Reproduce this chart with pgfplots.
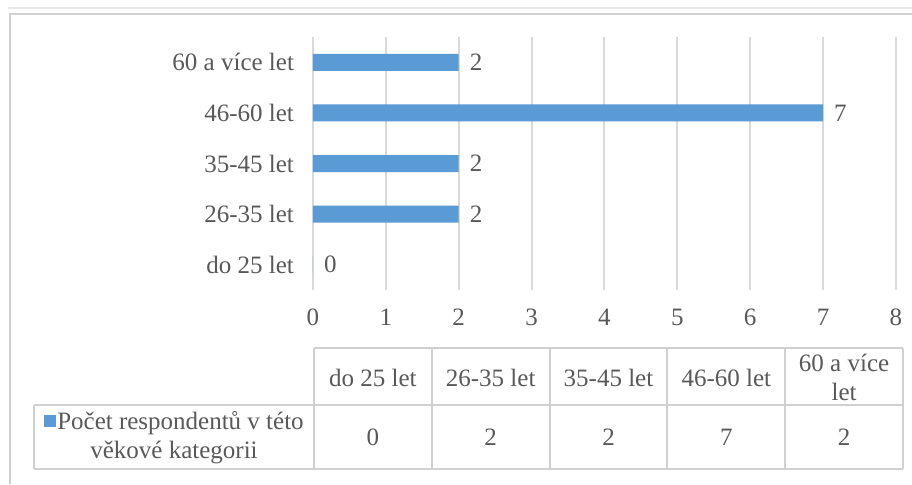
\documentclass[border=0pt]{standalone}
\usepackage{pgfplots}
\pgfplotsset{compat=1.18}
\usepackage{fontspec}
\setmainfont{Liberation Serif}

\definecolor{barblue}{HTML}{5B9BD5}
\definecolor{gridgray}{HTML}{D9D9D9}
\definecolor{framegray}{HTML}{D0D0D0}
\definecolor{textgray}{HTML}{595959}

\newcommand{\chartfont}{\fontsize{12.5}{14.5}\selectfont}

\begin{document}
\begin{tikzpicture}
\useasboundingbox (0,0) rectangle (456pt,242pt);
\fill[white] (0,0) rectangle (456pt,242pt);

% chart frame (the part in view)
\begin{scope}[x=0.5pt,y=-0.5pt,yshift=242pt]
  \draw[gridgray!60,line width=0.8pt] (8,8) -- (912,8);
  \draw[framegray,line width=1pt] (10,484) -- (10,14) -- (912,14);
\end{scope}

\begin{axis}[
  at={(156.5pt,97pt)}, anchor=south west,
  scale only axis, width=291.5pt, height=126.5pt,
  xbar, bar width=8.5pt,
  xmin=0, xmax=8, ymin=-0.5, ymax=4.5,
  xtick={0,...,8}, ytick={0,...,4},
  yticklabels={do 25 let,26-35 let,35-45 let,46-60 let,60 a více let},
  xmajorgrids, grid style={gridgray, line width=1pt},
  axis line style={draw=none},
  major tick length=0pt,
  /pgf/number format/assume math mode=true,
  tick label style={textgray, font=\chartfont},
  xticklabel style={yshift=-6pt},
  yticklabel style={xshift=-6pt},
  nodes near coords,
  nodes near coords style={anchor=west, xshift=2pt, textgray, font=\chartfont},
  clip=false,
]
\addplot[fill=barblue, draw=none] coordinates {(0,0) (2,1) (2,2) (7,3) (2,4)};
\end{axis}

% data table below the chart
\begin{scope}[x=0.5pt,y=-0.5pt,yshift=242pt, every node/.style={textgray, font=\chartfont}]
  \draw[framegray,line width=1pt]
    (314,348) -- (903,348)
    (34,405) -- (903,405)
    (34,469) -- (903,469)
    (34,405) -- (34,469);
  \foreach \i in {0,...,5}{
    \draw[framegray,line width=1pt] ({314+117.8*\i},348) -- ({314+117.8*\i},469);
  }
  \node at (372.9,378) {do 25 let};
  \node at (490.7,378) {26-35 let};
  \node at (608.5,378) {35-45 let};
  \node at (726.3,378) {46-60 let};
  \node[align=center] at (844.1,377) {60 a více\\let};
  \node at (372.9,437) {0};
  \node at (490.7,437) {2};
  \node at (608.5,437) {2};
  \node at (726.3,437) {7};
  \node at (844.1,437) {2};
  \node[align=center,inner sep=0pt] at (174,438)
    {\raisebox{1.2pt}{\color{barblue}\rule{6pt}{6pt}}\hspace{0.5pt}Počet respondentů v této\\věkové kategorii};
\end{scope}
\end{tikzpicture}
\end{document}
